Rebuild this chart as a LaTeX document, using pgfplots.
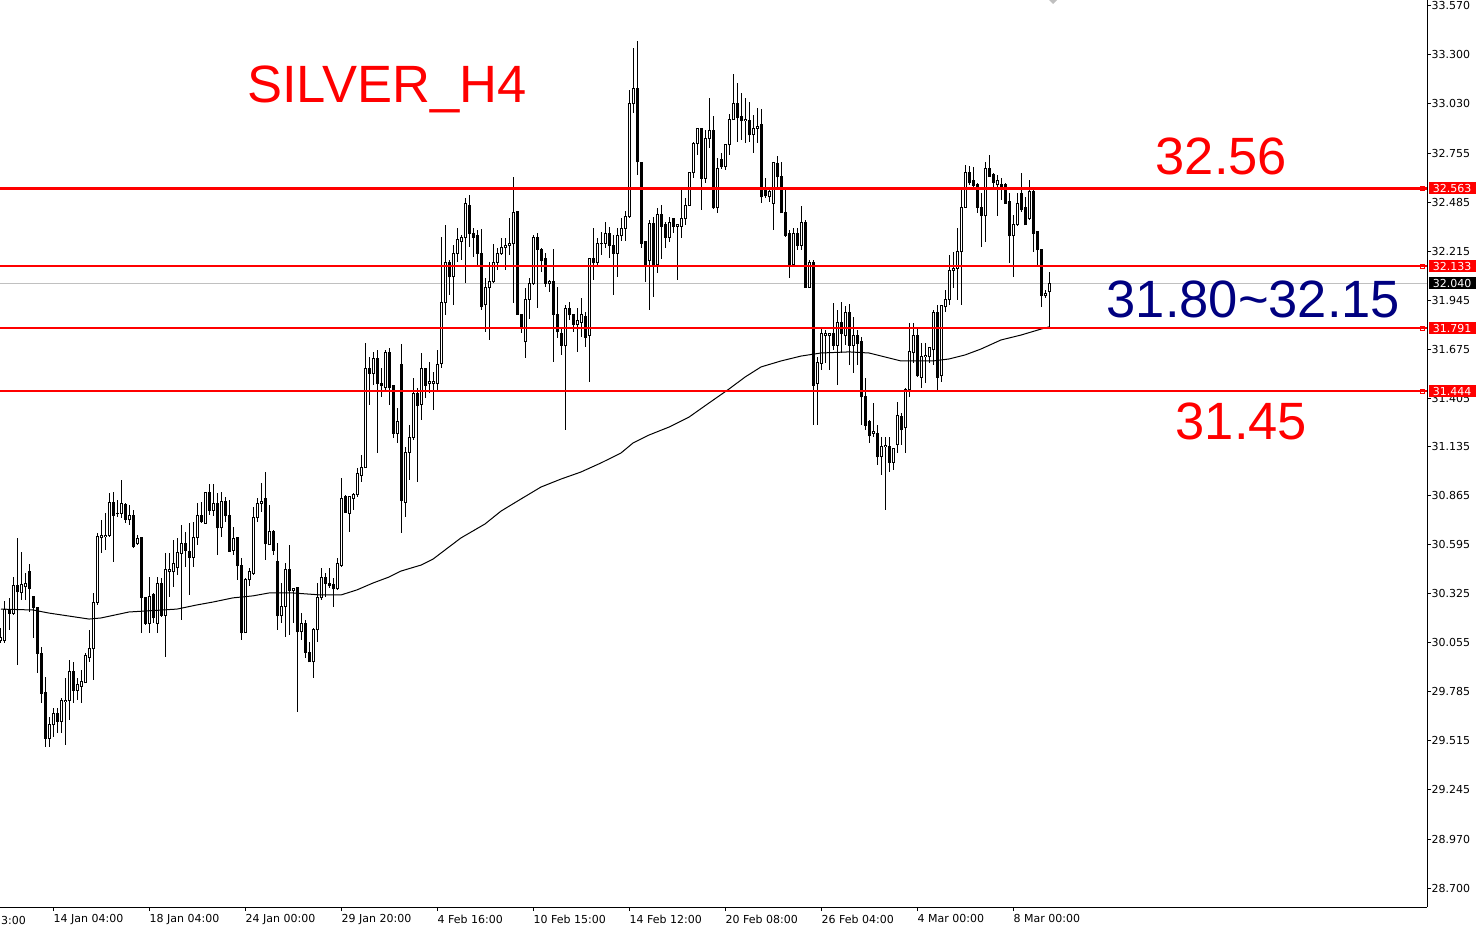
\documentclass[border=0pt]{standalone}
\usepackage{pgfplots}
\pgfplotsset{compat=1.18}
\usepackage{pgfplotstable}
\usepackage{fontspec}
\setmainfont{Liberation Sans}
\newfontfamily\dejavu{DejaVu Sans}
\newcommand\tickfont{\dejavu\fontsize{3.13pt}{3.6pt}\selectfont}
\newcommand\bigfont{\fontsize{14.94pt}{17pt}\selectfont}
\definecolor{mtred}{RGB}{255,0,0}
\definecolor{mtnavy}{RGB}{0,0,128}
\definecolor{bidgray}{RGB}{192,192,192}

\pgfplotstableread{
k o h l c
0 30.064 30.136 30.053 30.081
1 30.064 30.285 30.053 30.240
2 30.240 30.302 30.125 30.218
3 30.218 30.417 30.207 30.368
4 30.368 30.633 29.931 30.335
5 30.329 30.555 30.290 30.373
6 30.362 30.439 30.290 30.379
7 30.445 30.489 30.224 30.351
8 30.307 30.307 30.081 30.246
9 30.246 30.252 29.887 29.997
10 29.997 30.031 29.721 29.776
11 29.782 29.866 29.479 29.528
12 29.528 29.645 29.479 29.600
13 29.600 29.694 29.534 29.661
14 29.661 29.694 29.556 29.622
15 29.622 29.749 29.556 29.738
16 29.732 29.860 29.490 29.738
17 29.738 29.959 29.628 29.893
18 29.893 29.948 29.721 29.793
19 29.793 29.860 29.738 29.821
20 29.815 29.904 29.721 29.838
21 29.832 29.997 29.832 29.981
22 29.970 30.125 29.948 30.025
23 30.020 30.329 29.849 30.279
24 30.279 30.660 30.263 30.638
25 30.633 30.732 30.549 30.649
26 30.638 30.770 30.566 30.649
27 30.649 30.881 30.638 30.831
28 30.831 30.887 30.500 30.759
29 30.765 30.842 30.748 30.770
30 30.770 30.953 30.743 30.825
31 30.820 30.825 30.715 30.737
32 30.732 30.814 30.704 30.759
33 30.759 30.787 30.577 30.583
34 30.600 30.649 30.594 30.627
35 30.633 30.638 30.108 30.302
36 30.302 30.307 30.152 30.163
37 30.163 30.417 30.108 30.307
38 30.318 30.329 30.163 30.191
39 30.163 30.417 30.108 30.384
40 30.384 30.412 30.196 30.207
41 30.207 30.549 29.975 30.456
42 30.445 30.549 30.307 30.456
43 30.445 30.622 30.362 30.494
44 30.467 30.633 30.428 30.555
45 30.549 30.704 30.180 30.600
46 30.600 30.666 30.472 30.566
47 30.560 30.715 30.318 30.527
48 30.527 30.721 30.472 30.633
49 30.633 30.825 30.594 30.759
50 30.759 30.831 30.715 30.721
51 30.715 30.887 30.715 30.881
52 30.881 30.931 30.759 30.787
53 30.787 30.931 30.754 30.825
54 30.825 30.881 30.538 30.688
55 30.688 30.887 30.638 30.836
56 30.836 30.859 30.721 30.754
57 30.754 30.842 30.555 30.560
58 30.566 30.693 30.538 30.627
59 30.633 30.638 30.401 30.478
60 30.483 30.522 30.070 30.108
61 30.108 30.412 30.108 30.406
62 30.401 30.467 30.368 30.445
63 30.439 30.803 30.428 30.743
64 30.743 30.853 30.721 30.825
65 30.825 30.936 30.776 30.836
66 30.848 30.997 30.511 30.600
67 30.594 30.814 30.594 30.671
68 30.671 30.677 30.538 30.566
69 30.500 30.605 30.125 30.202
70 30.202 30.384 30.163 30.252
71 30.257 30.494 30.086 30.461
72 30.461 30.594 30.097 30.340
73 30.340 30.357 30.163 30.351
74 30.357 30.362 29.672 30.114
75 30.114 30.218 30.070 30.163
76 30.163 30.180 29.970 30.003
77 30.003 30.059 29.948 29.948
78 29.948 30.136 29.860 30.125
79 30.125 30.384 30.059 30.302
80 30.302 30.467 30.290 30.417
81 30.417 30.439 30.307 30.384
82 30.384 30.467 30.357 30.368
83 30.373 30.412 30.252 30.351
84 30.351 30.522 30.346 30.489
85 30.483 30.964 30.472 30.853
86 30.859 30.870 30.776 30.776
87 30.770 30.864 30.666 30.859
88 30.853 30.881 30.787 30.870
89 30.870 31.019 30.859 30.986
90 30.980 31.090 30.942 31.019
91 31.019 31.709 31.019 31.571
92 31.571 31.632 31.366 31.543
93 31.543 31.660 31.477 31.626
94 31.626 31.671 31.101 31.488
95 31.488 31.571 31.411 31.472
96 31.466 31.671 31.450 31.654
97 31.654 31.682 31.366 31.466
98 31.477 31.477 31.185 31.212
99 31.212 31.350 31.157 31.278
100 31.588 31.704 30.660 30.842
101 30.831 31.135 30.748 31.107
102 31.107 31.256 30.953 31.190
103 31.190 31.516 31.174 31.433
104 31.433 31.461 30.942 31.366
105 31.372 31.654 31.284 31.571
106 31.571 31.571 31.405 31.477
107 31.483 31.604 31.433 31.494
108 31.488 31.549 31.339 31.494
109 31.488 31.671 31.439 31.593
110 31.598 32.294 31.571 31.930
111 31.930 32.360 31.864 32.156
112 32.156 32.167 31.975 32.074
113 32.074 32.250 31.919 32.206
114 32.206 32.344 32.156 32.278
115 32.272 32.305 32.167 32.294
116 32.289 32.510 32.040 32.482
117 32.471 32.526 32.239 32.316
118 32.316 32.344 32.184 32.294
119 32.305 32.333 32.128 32.206
120 32.206 32.338 31.891 31.908
121 31.919 32.068 31.770 32.013
122 32.013 32.156 31.726 32.046
123 32.046 32.256 32.040 32.156
124 32.156 32.234 32.112 32.201
125 32.201 32.289 32.195 32.234
126 32.234 32.289 32.112 32.250
127 32.245 32.399 32.195 32.261
128 32.256 32.626 31.930 32.427
129 32.433 32.438 31.864 31.869
130 31.869 31.869 31.764 31.792
131 31.715 32.013 31.626 31.952
132 31.952 32.068 31.842 32.035
133 32.035 32.305 32.029 32.294
134 32.294 32.316 31.902 32.228
135 32.228 32.234 32.101 32.162
136 32.173 32.206 32.018 32.040
137 32.040 32.057 31.991 32.051
138 32.046 32.228 31.604 31.869
139 31.869 32.018 31.737 31.770
140 31.764 31.792 31.643 31.698
141 31.693 31.919 31.229 31.902
142 31.902 31.936 31.836 31.864
143 31.869 31.869 31.770 31.814
144 31.814 31.902 31.660 31.831
145 31.825 31.958 31.742 31.869
146 31.858 31.880 31.687 31.742
147 31.753 32.178 31.494 32.178
148 32.178 32.344 32.057 32.151
149 32.151 32.289 32.140 32.261
150 32.256 32.322 32.195 32.261
151 32.261 32.377 32.234 32.311
152 32.311 32.349 32.178 32.250
153 32.250 32.305 31.975 32.206
154 32.206 32.344 32.074 32.305
155 32.300 32.399 32.272 32.344
156 32.344 32.438 32.272 32.405
157 32.405 33.106 32.399 33.029
158 33.029 33.338 32.979 33.117
159 33.117 33.376 32.637 32.709
160 32.703 32.709 32.234 32.261
161 32.267 32.272 32.046 32.140
162 32.162 32.388 31.891 32.371
163 32.371 32.405 31.963 32.140
164 32.140 32.455 32.096 32.416
165 32.416 32.471 32.173 32.355
166 32.366 32.377 32.234 32.294
167 32.294 32.405 32.267 32.377
168 32.394 32.399 32.316 32.355
169 32.355 32.366 32.057 32.361
170 32.355 32.554 32.289 32.394
171 32.394 32.510 32.361 32.471
172 32.471 32.653 32.471 32.653
173 32.648 32.819 32.620 32.813
174 32.813 32.896 32.747 32.891
175 32.891 32.896 32.444 32.620
176 32.620 32.885 32.592 32.836
177 32.836 33.062 32.786 32.885
178 32.885 32.963 32.449 32.455
179 32.455 32.731 32.427 32.675
180 32.725 32.758 32.670 32.681
181 32.681 32.803 32.664 32.803
182 32.803 32.974 32.747 32.941
183 32.941 33.194 32.941 33.029
184 33.034 33.144 32.819 32.952
185 32.957 33.089 32.830 32.935
186 32.935 33.062 32.813 32.941
187 32.935 33.040 32.819 32.858
188 32.858 32.968 32.758 32.896
189 32.896 33.007 32.813 32.907
190 32.913 33.001 32.482 32.516
191 32.565 32.620 32.510 32.521
192 32.516 32.571 32.488 32.543
193 32.482 32.709 32.333 32.703
194 32.698 32.742 32.565 32.626
195 32.631 32.709 32.427 32.427
196 32.427 32.554 32.294 32.305
197 32.316 32.333 32.068 32.140
198 32.140 32.344 32.140 32.316
199 32.316 32.344 32.223 32.250
200 32.250 32.466 32.223 32.377
201 32.377 32.388 32.018 32.018
202 32.018 32.167 32.018 32.151
203 32.151 32.167 31.256 31.477
204 31.488 31.632 31.256 31.604
205 31.598 31.798 31.560 31.764
206 31.748 31.781 31.598 31.759
207 31.748 31.764 31.560 31.759
208 31.759 31.930 31.671 31.698
209 31.698 31.891 31.477 31.820
210 31.825 31.936 31.654 31.764
211 31.748 31.914 31.698 31.875
212 31.875 31.925 31.588 31.698
213 31.698 31.853 31.543 31.748
214 31.753 31.781 31.588 31.709
215 31.715 31.742 31.256 31.411
216 31.411 31.516 31.229 31.256
217 31.273 31.284 31.157 31.196
218 31.212 31.378 31.190 31.218
219 31.212 31.256 31.036 31.080
220 31.080 31.190 30.980 31.135
221 31.135 31.190 30.787 31.141
222 31.135 31.190 30.997 31.052
223 31.052 31.129 31.008 31.124
224 31.146 31.383 31.101 31.311
225 31.306 31.322 31.146 31.229
226 31.240 31.461 31.101 31.455
227 31.450 31.820 31.411 31.660
228 31.654 31.820 31.598 31.748
229 31.748 31.798 31.521 31.527
230 31.521 31.709 31.461 31.632
231 31.632 31.709 31.488 31.638
232 31.632 31.687 31.598 31.682
233 31.671 31.891 31.588 31.875
234 31.880 31.919 31.450 31.521
235 31.527 31.919 31.494 31.914
236 31.908 32.002 31.880 31.947
237 31.947 32.195 31.919 32.112
238 32.112 32.212 32.013 32.123
239 32.123 32.344 31.947 32.212
240 32.212 32.554 31.919 32.460
241 32.460 32.692 32.455 32.653
242 32.653 32.687 32.582 32.593
243 32.604 32.681 32.571 32.576
244 32.582 32.593 32.427 32.460
245 32.460 32.537 32.239 32.411
246 32.411 32.709 32.267 32.670
247 32.670 32.747 32.626 32.631
248 32.637 32.648 32.565 32.598
249 32.582 32.637 32.411 32.609
250 32.587 32.620 32.499 32.571
251 32.587 32.593 32.482 32.482
252 32.488 32.537 32.151 32.300
253 32.300 32.416 32.074 32.366
254 32.366 32.537 32.355 32.482
255 32.537 32.648 32.433 32.444
256 32.455 32.515 32.361 32.361
257 32.394 32.609 32.388 32.548
258 32.548 32.565 32.212 32.316
259 32.322 32.322 32.140 32.223
260 32.223 32.223 31.908 31.969
261 31.969 32.002 31.958 31.985
262 31.991 32.101 31.798 32.040
}\candles

\pgfplotstableread{
k ma
0 30.240
8 30.235
12 30.218
22 30.185
25 30.191
32 30.224
44 30.240
49 30.263
53 30.279
58 30.302
63 30.313
67 30.329
73 30.329
80 30.318
85 30.318
89 30.346
93 30.384
97 30.417
100 30.450
105 30.483
108 30.516
112 30.583
115 30.633
121 30.710
125 30.781
130 30.848
135 30.914
140 30.958
145 30.997
150 31.047
155 31.102
158 31.157
162 31.201
167 31.245
172 31.300
177 31.378
182 31.455
186 31.521
190 31.577
195 31.610
200 31.637
205 31.654
212 31.660
217 31.654
221 31.632
225 31.610
233 31.610
237 31.621
241 31.643
245 31.676
250 31.726
255 31.753
260 31.786
262 31.798
}\maline

\pgfplotsset{chartgeom/.style={scale only axis, width=142.7mm, height=90.7mm,
  at={(0,2.5mm)}, anchor=south west,
  xmin=-0.25, xmax=356.5, ymin=28.5951, ymax=33.6031}}

\begin{document}
\begin{tikzpicture}
\useasboundingbox (0,0) rectangle (148.1mm,93.2mm);
% layer 1: bid line, wicks and candle bodies
\begin{axis}[chartgeom, hide axis]
\addplot[bidgray, line width=0.1mm] coordinates {(-0.25,32.040) (356.5,32.040)};
% wicks (low-high)
\addplot[draw=none, mark=none,
  error bars/.cd, y dir=both, y explicit, error mark=none,
  error bar style={draw=black, solid, line width=0.1mm}]
  table[x=k, y=o, y error plus expr=\thisrow{h}-\thisrow{o},
        y error minus expr=\thisrow{o}-\thisrow{l}] {\candles};
% bodies (black, outline for all)
\addplot[draw=none, mark=none,
  error bars/.cd, y dir=plus, y explicit, error mark=none,
  error bar style={draw=black, solid, line width=0.3mm, line cap=butt}]
  table[x=k, y expr={min(\thisrow{o},\thisrow{c})-0.00276},
        y error plus expr={abs(\thisrow{c}-\thisrow{o})+0.00552}] {\candles};
% white interior of rising candles
\addplot[draw=none, mark=none,
  error bars/.cd, y dir=plus, y explicit, error mark=none,
  error bar style={draw=white, solid, line width=0.1mm, line cap=butt}]
  table[x=k, y expr={\thisrow{o}+0.00276},
        y error plus expr={max(\thisrow{c}-\thisrow{o}-0.00552,0)}] {\candles};
\end{axis}
% layer 2: MA, levels, axes
\begin{axis}[chartgeom, clip=false,
  axis x line=bottom, axis y line=right,
  axis line style={-, black, line width=0.1mm},
  tick align=outside, major tick length=0.4mm,
  tick style={black, line width=0.1mm},
  xtick={13,37,61,85,109,133,157,181,205,229,253},
  xticklabels={14 Jan 04:00,18 Jan 04:00,24 Jan 00:00,29 Jan 20:00,4 Feb 16:00,10 Feb 15:00,14 Feb 12:00,20 Feb 08:00,26 Feb 04:00,4 Mar 00:00,8 Mar 00:00},
  xticklabel style={font=\tickfont, anchor=north west, inner sep=0pt, yshift=-0.3mm},
  ytick={28.700,28.970,29.245,29.515,29.785,30.055,30.325,30.595,30.865,31.135,31.405,31.675,31.945,32.215,32.485,32.755,33.030,33.300,33.570},
  yticklabels={28.700,28.970,29.245,29.515,29.785,30.055,30.325,30.595,30.865,31.135,31.405,31.675,31.945,32.215,32.485,32.755,33.030,33.300,33.570},
  yticklabel style={font=\tickfont, anchor=west, inner sep=0pt},
]
\addplot[black, line width=0.1mm] table[x=k, y=ma] {\maline};
\addplot[mtred, line width=0.25mm] coordinates {(-0.25,32.563) (356.5,32.563)};
\addplot[mtred, line width=0.25mm] coordinates {(-0.25,32.133) (356.5,32.133)};
\addplot[mtred, line width=0.25mm] coordinates {(-0.25,31.791) (356.5,31.791)};
\addplot[mtred, line width=0.25mm] coordinates {(-0.25,31.444) (356.5,31.444)};
\addplot[mtred, only marks, mark=square, mark size=0.2mm, line width=0.1mm]
  coordinates {(355.4,32.563) (355.4,32.133) (355.4,31.791) (355.4,31.444)};
\node[fill=mtred, text=white, font=\tickfont, anchor=west, inner sep=0pt, minimum width=4.7mm, minimum height=1.2mm, xshift=0.1mm] at (axis cs:356.5,32.563) {32.563};
\node[fill=mtred, text=white, font=\tickfont, anchor=west, inner sep=0pt, minimum width=4.7mm, minimum height=1.2mm, xshift=0.1mm] at (axis cs:356.5,32.133) {32.133};
\node[fill=black, text=white, font=\tickfont, anchor=west, inner sep=0pt, minimum width=4.7mm, minimum height=1.2mm, xshift=0.1mm] at (axis cs:356.5,32.040) {32.040};
\node[fill=mtred, text=white, font=\tickfont, anchor=west, inner sep=0pt, minimum width=4.7mm, minimum height=1.2mm, xshift=0.1mm] at (axis cs:356.5,31.791) {31.791};
\node[fill=mtred, text=white, font=\tickfont, anchor=west, inner sep=0pt, minimum width=4.7mm, minimum height=1.2mm, xshift=0.1mm] at (axis cs:356.5,31.444) {31.444};
\end{axis}
% annotations
\node[anchor=base west, inner sep=0pt, text=mtred, font=\bigfont] at (24.65mm,82.9mm) {SILVER\_H4};
\node[anchor=base west, inner sep=0pt, text=mtred, font=\bigfont] at (115.5mm,75.7mm) {32.56};
\node[anchor=base west, inner sep=0pt, text=mtnavy, font=\bigfont] at (110.6mm,61.4mm) {31.80\textasciitilde 32.15};
\node[anchor=base west, inner sep=0pt, text=mtred, font=\bigfont] at (117.5mm,49.2mm) {31.45};
\node[anchor=north west, inner sep=0pt, font=\tickfont] at (0.05mm,1.6mm) {3:00};
\fill[black!25] (104.9mm,93.2mm) -- (105.7mm,93.2mm) -- (105.3mm,92.8mm) -- cycle;
\end{tikzpicture}
\end{document}
